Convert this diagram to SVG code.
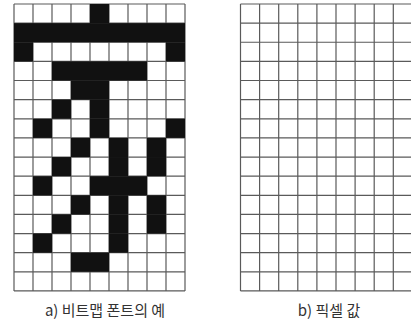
<svg xmlns="http://www.w3.org/2000/svg" width="411" height="322" viewBox="0 0 411 322">
<style>
.grid{stroke:#5a5a5a;stroke-width:1.2;fill:none}
.on{fill:#111}
.lbl{font-family:"Noto Sans CJK KR","Noto Sans",sans-serif;font-size:15px;fill:#333;text-anchor:middle}
</style>
<rect width="411" height="322" fill="#fff"/>
<g id="bitmap-font">
<path class="grid" d="M14 4V291M33 4V291M52 4V291M71 4V291M90 4V291M109 4V291M128 4V291M147 4V291M166 4V291M185 4V291M14 4H185M14 23.13H185M14 42.26H185M14 61.39H185M14 80.52H185M14 99.65H185M14 118.78H185M14 137.91H185M14 157.04H185M14 176.17H185M14 195.3H185M14 214.43H185M14 233.56H185M14 252.69H185M14 271.82H185M14 290.95H185"/>
<g class="on">
<rect x="90" y="4" width="19" height="19.13"/>
<rect x="14" y="23.13" width="171" height="19.13"/>
<rect x="14" y="42.26" width="19" height="19.13"/>
<rect x="166" y="42.26" width="19" height="19.13"/>
<rect x="52" y="61.39" width="95" height="19.13"/>
<rect x="71" y="80.52" width="38" height="19.13"/>
<rect x="52" y="99.65" width="19" height="19.13"/>
<rect x="90" y="99.65" width="19" height="19.13"/>
<rect x="33" y="118.78" width="19" height="19.13"/>
<rect x="90" y="118.78" width="19" height="19.13"/>
<rect x="166" y="118.78" width="19" height="19.13"/>
<rect x="71" y="137.91" width="19" height="19.13"/>
<rect x="109" y="137.91" width="19" height="19.13"/>
<rect x="147" y="137.91" width="19" height="19.13"/>
<rect x="52" y="157.04" width="19" height="19.13"/>
<rect x="109" y="157.04" width="19" height="19.13"/>
<rect x="147" y="157.04" width="19" height="19.13"/>
<rect x="33" y="176.17" width="19" height="19.13"/>
<rect x="90" y="176.17" width="57" height="19.13"/>
<rect x="71" y="195.3" width="19" height="19.13"/>
<rect x="109" y="195.3" width="19" height="19.13"/>
<rect x="147" y="195.3" width="19" height="19.13"/>
<rect x="52" y="214.43" width="19" height="19.13"/>
<rect x="109" y="214.43" width="19" height="19.13"/>
<rect x="147" y="214.43" width="19" height="19.13"/>
<rect x="33" y="233.56" width="19" height="19.13"/>
<rect x="109" y="233.56" width="19" height="19.13"/>
<rect x="71" y="252.69" width="38" height="19.13"/>
</g>
<text class="lbl" x="105" y="315.5">a) 비트맵 폰트의 예</text>
</g>
<g id="pixel-values">
<path class="grid" d="M240.5 4V291M259.6 4V291M278.7 4V291M297.8 4V291M316.9 4V291M336 4V291M355.1 4V291M374.2 4V291M393.3 4V291M240.5 4H411M240.5 23.13H411M240.5 42.26H411M240.5 61.39H411M240.5 80.52H411M240.5 99.65H411M240.5 118.78H411M240.5 137.91H411M240.5 157.04H411M240.5 176.17H411M240.5 195.3H411M240.5 214.43H411M240.5 233.56H411M240.5 252.69H411M240.5 271.82H411M240.5 290.95H411"/>
<text class="lbl" x="329" y="315.5">b) 픽셀 값</text>
</g>
<g id="connectors"/>
</svg>
